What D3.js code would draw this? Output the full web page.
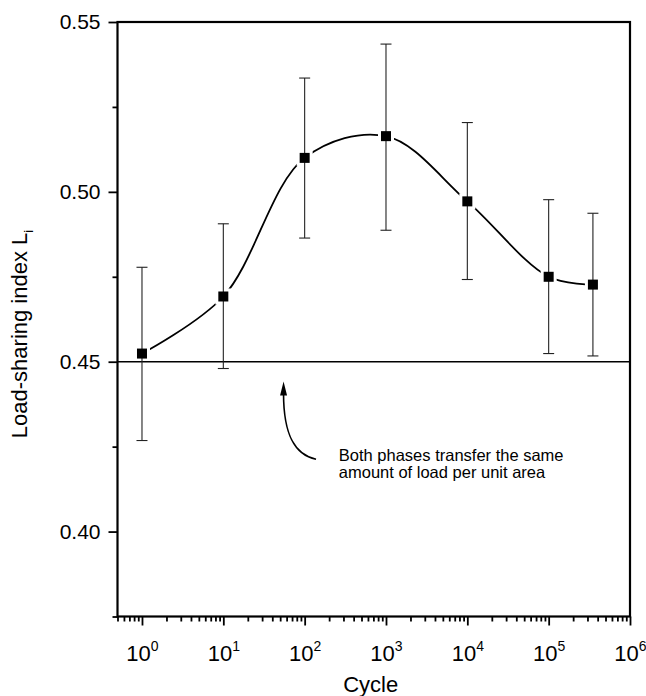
<!DOCTYPE html>
<html>
<head>
<meta charset="utf-8">
<script src="https://cdn.jsdelivr.net/npm/d3@7"></script>
<style>
  body { margin: 0; background: #fff; }
  svg { display: block; font-family: "Liberation Sans", Arial, Helvetica, sans-serif; }
</style>
</head>
<body>
<svg id="chart" width="646" height="696"></svg>
<script>
// Load-sharing index vs. cycle (log x), mean with error bars

const cycles   = [1, 10, 100, 1000, 10000, 100000, 350000];
const meanL    = [0.4524, 0.4692, 0.5100, 0.5164, 0.4972, 0.4750, 0.4727];
const upperL   = [0.4778, 0.4906, 0.5335, 0.5435, 0.5204, 0.4977, 0.4937];
const lowerL   = [0.4268, 0.4480, 0.4864, 0.4887, 0.4742, 0.4524, 0.4517];

const xDecades = [1, 10, 100, 1e3, 1e4, 1e5, 1e6];
const xExponents = ['0', '1', '2', '3', '4', '5', '6'];
const yMajor = [0.40, 0.45, 0.50, 0.55];
const yMinor = [0.375, 0.425, 0.475, 0.525];
const refLevel = 0.45;

const noteLines = ['Both phases transfer the same', 'amount of load per unit area'];

const svg = d3.select('#chart');

const x = d3.scaleLog().domain([0.5, 1e6]).range([117.5, 630]);
const y = d3.scaleLinear().domain([0.375, 0.55]).range([616.5, 22]);

const points = cycles.map((c, i) => ({ c, v: meanL[i], hi: upperL[i], lo: lowerL[i] }));

// minor ticks on log axis: 2..9 each decade, plus 0.5..0.9
const xMinor = [];
for (let d = 0.1; d < 1e6; d *= 10) {
    for (let k = 2; k <= 9; k++) {
        const v = +(d * k).toPrecision(3);
        if (v >= 0.5 && v < 1e6) xMinor.push(v);
    }
}

// fitted curve
const line = d3.line()
    .x(d => x(d.c))
    .y(d => y(d.v))
    .curve(d3.curveCatmullRom.alpha(0.5));

svg.append('path')
    .datum(points)
    .attr('d', line)
    .attr('fill', 'none')
    .attr('stroke', '#000')
    .attr('stroke-width', 1.8);

// white halo round markers (gap in curve)
svg.append('g')
    .selectAll('rect')
    .data(points)
    .join('rect')
    .attr('x', d => x(d.c) - 8)
    .attr('y', d => y(d.v) - 8)
    .attr('width', 16)
    .attr('height', 16)
    .attr('fill', '#fff');

// reference line at 0.45
svg.append('line')
    .attr('x1', x.range()[0])
    .attr('x2', x.range()[1])
    .attr('y1', y(refLevel))
    .attr('y2', y(refLevel))
    .attr('stroke', '#000')
    .attr('stroke-width', 1.4);

// error bars
const eb = svg.append('g')
    .attr('stroke', '#222')
    .attr('stroke-width', 1.1);

eb.selectAll('line.v')
    .data(points)
    .join('line')
    .attr('class', 'v')
    .attr('x1', d => x(d.c))
    .attr('x2', d => x(d.c))
    .attr('y1', d => y(d.hi))
    .attr('y2', d => y(d.lo));

eb.selectAll('line.top')
    .data(points)
    .join('line')
    .attr('class', 'top')
    .attr('x1', d => x(d.c) - 5.5)
    .attr('x2', d => x(d.c) + 5.5)
    .attr('y1', d => y(d.hi))
    .attr('y2', d => y(d.hi));

eb.selectAll('line.bot')
    .data(points)
    .join('line')
    .attr('class', 'bot')
    .attr('x1', d => x(d.c) - 5.5)
    .attr('x2', d => x(d.c) + 5.5)
    .attr('y1', d => y(d.lo))
    .attr('y2', d => y(d.lo));

// markers
svg.append('g')
    .selectAll('rect')
    .data(points)
    .join('rect')
    .attr('x', d => x(d.c) - 5)
    .attr('y', d => y(d.v) - 5)
    .attr('width', 10)
    .attr('height', 10)
    .attr('fill', '#000');

// axes
const yAxisMajor = svg.append('g')
    .attr('transform', `translate(${x.range()[0]},0)`)
    .call(d3.axisLeft(y).tickValues(yMajor).tickSize(9).tickPadding(8).tickFormat(d3.format('.2f')));
const yAxisMinor = svg.append('g')
    .attr('transform', `translate(${x.range()[0]},0)`)
    .call(d3.axisLeft(y).tickValues(yMinor).tickSize(5).tickFormat(''));

const xAxisMajor = svg.append('g')
    .attr('transform', `translate(0,${y.range()[0]})`)
    .call(d3.axisBottom(x).tickValues(xDecades).tickSize(9).tickFormat(''));
const xAxisMinor = svg.append('g')
    .attr('transform', `translate(0,${y.range()[0]})`)
    .call(d3.axisBottom(x).tickValues(xMinor).tickSize(5).tickFormat(''));

[yAxisMajor, yAxisMinor, xAxisMajor, xAxisMinor].forEach(a => {
    a.select('.domain').remove();
    a.selectAll('.tick line').attr('stroke', '#000').attr('stroke-width', 1.8);
});

yAxisMajor.selectAll('.tick text')
    .attr('font-size', 21)
    .attr('fill', '#000')
    .attr('font-family', '"Liberation Sans", Arial, sans-serif');

// decade labels 10^n
xAxisMajor.selectAll('.tick').each(function(d, i) {
    const t = d3.select(this).append('text')
        .attr('y', 44.5)
        .attr('text-anchor', 'middle')
        .attr('fill', '#000')
        .attr('font-size', 22)
        .attr('font-family', '"Liberation Sans", Arial, sans-serif');
    t.append('tspan').text('10');
    t.append('tspan').attr('dy', -10).attr('font-size', 14).text(xExponents[i]);
});

// frame
svg.append('rect')
    .attr('x', x.range()[0])
    .attr('y', y.range()[1])
    .attr('width', x.range()[1] - x.range()[0])
    .attr('height', y.range()[0] - y.range()[1])
    .attr('fill', 'none')
    .attr('stroke', '#000')
    .attr('stroke-width', 2.2);

// axis titles
svg.append('text')
    .attr('x', (x.range()[0] + x.range()[1]) / 2 - 3)
    .attr('y', 692)
    .attr('text-anchor', 'middle')
    .attr('font-size', 22)
    .text('Cycle');

const yl = svg.append('text')
    .attr('transform', 'translate(27,334) rotate(-90)')
    .attr('text-anchor', 'middle')
    .attr('font-size', 22);
yl.append('tspan').text('Load-sharing index L');
yl.append('tspan').attr('dy', 6).attr('font-size', 13).text('i');

// annotation: arrow up to the 0.45 line, text below
const arrowTip = { c: 55, v: 0.4442 };
const arrowTail = { c: 138, v: 0.4213 };
const tx = x(arrowTip.c), ty = y(arrowTip.v);
const sx = x(arrowTail.c), sy = y(arrowTail.v);

svg.append('path')
    .attr('d', `M${sx},${sy} C${sx - 20},${sy - 4} ${tx},${sy - 22} ${tx},${ty + 12}`)
    .attr('fill', 'none')
    .attr('stroke', '#000')
    .attr('stroke-width', 1.6);

svg.append('path')
    .attr('d', `M${tx},${ty} L${tx - 3.5},${ty + 14} L${tx + 3.5},${ty + 14} Z`)
    .attr('fill', '#000');

const noteX = x(263), noteY = y(0.4211);
svg.append('g')
    .selectAll('text')
    .data(noteLines)
    .join('text')
    .attr('x', noteX)
    .attr('y', (d, i) => noteY + 1 + i * 17)
    .attr('font-size', 16.5)
    .text(d => d);
</script>
</body>
</html>
